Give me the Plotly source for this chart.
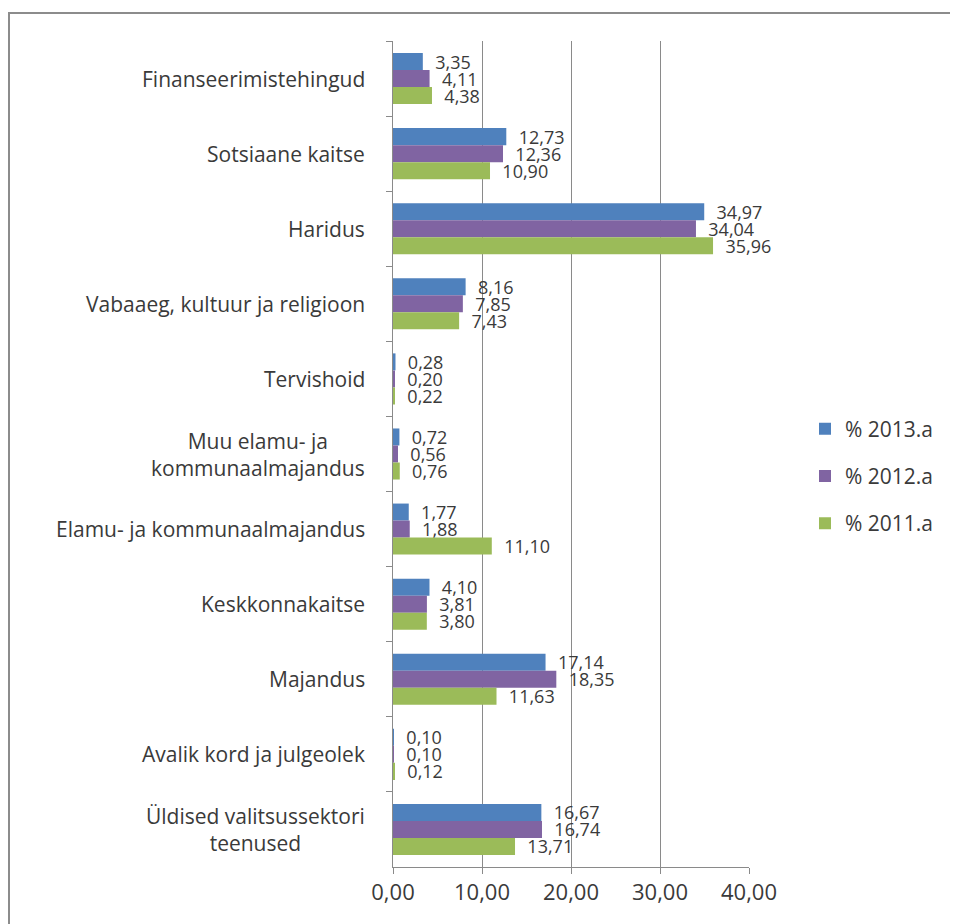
import plotly.graph_objects as go

categories = [
    "Finanseerimistehingud",
    "Sotsiaane kaitse",
    "Haridus",
    "Vabaaeg, kultuur ja religioon",
    "Tervishoid",
    "Muu elamu- ja<br>kommunaalmajandus",
    "Elamu- ja kommunaalmajandus",
    "Keskkonnakaitse",
    "Majandus",
    "Avalik kord ja julgeolek",
    "Üldised valitsussektori<br>teenused",
]
v2013 = [3.35, 12.73, 34.97, 8.16, 0.28, 0.72, 1.77, 4.10, 17.14, 0.10, 16.67]
v2012 = [4.11, 12.36, 34.04, 7.85, 0.20, 0.56, 1.88, 3.81, 18.35, 0.10, 16.74]
v2011 = [4.38, 10.90, 35.96, 7.43, 0.22, 0.76, 11.10, 3.80, 11.63, 0.12, 13.71]
series_names = ["% 2013.a", "% 2012.a", "% 2011.a"]
x_ticks = [0, 10, 20, 30, 40]

colors = ["#4F81BD", "#8064A2", "#9BBB59"]
FONT = "Open Sans"
TXT = "#3a3a3a"

fig = go.Figure()
for i, (name, vals) in enumerate(zip(series_names, [v2013, v2012, v2011])):
    fig.add_trace(go.Bar(
        y=categories, x=vals, name=name, orientation="h",
        marker=dict(color=colors[i], line=dict(width=0)),
        texttemplate="\u00a0\u00a0%{x:.2f}",
        textposition="outside",
        textfont=dict(family=FONT, size=18, color=TXT),
        constraintext="none",
        cliponaxis=False,
        legendgroup=name,
        hoverinfo="skip",
    ))

# page has an 8px body margin, so figure coords = page coords - 8
W, H = 950, 916
L, T = 385, 33
pw, ph = 356, 826
R = W - L - pw
B = H - T - ph

for c in categories:
    fig.add_annotation(
        x=0, xref="paper", y=c, yref="y", xanchor="right", yanchor="middle",
        xshift=-26, text=c, showarrow=False, align="center",
        font=dict(family=FONT, size=21, color=TXT),
    )

# outer chart border
fig.add_shape(
    type="rect", xref="paper", yref="paper",
    x0=(1 - L) / pw, x1=(949 - L) / pw,
    y0=-(B + 20) / ph, y1=(T + ph - 5) / ph,
    line=dict(color="#8c8c8c", width=2), fillcolor="rgba(0,0,0,0)", layer="below",
)

fig.update_layout(
    width=W, height=H,
    margin=dict(l=L, r=R, t=T, b=B, autoexpand=False),
    paper_bgcolor="white", plot_bgcolor="white",
    barmode="group", bargap=0.32, bargroupgap=0,
    separators=", ",
    font=dict(family=FONT, size=22, color=TXT),
    xaxis=dict(
        range=[0, 40], tickvals=x_ticks, tickformat=".2f",
        showgrid=True, gridcolor="#8a8a8a", gridwidth=1,
        showline=True, linecolor="#8a8a8a", linewidth=1,
        ticks="outside", ticklen=6, tickcolor="#8a8a8a",
        zeroline=False, tickfont=dict(family=FONT, size=22, color=TXT),
        fixedrange=True,
    ),
    yaxis=dict(
        type="category", categoryorder="array", categoryarray=categories,
        autorange="reversed", showticklabels=False,
        showline=True, linecolor="#8a8a8a", linewidth=1,
        ticks="outside", ticklen=6, tickcolor="#8a8a8a", tickson="boundaries",
        showgrid=False, zeroline=False, fixedrange=True,
    ),
    legend=dict(
        x=(797 - L) / pw, xanchor="left",
        y=(T + ph - 468) / ph, yanchor="middle",
        traceorder="grouped", tracegroupgap=17,
        font=dict(family=FONT, size=21, color=TXT),
        bgcolor="rgba(0,0,0,0)",
    ),
    showlegend=True,
)

fig.write_html("out.html")
